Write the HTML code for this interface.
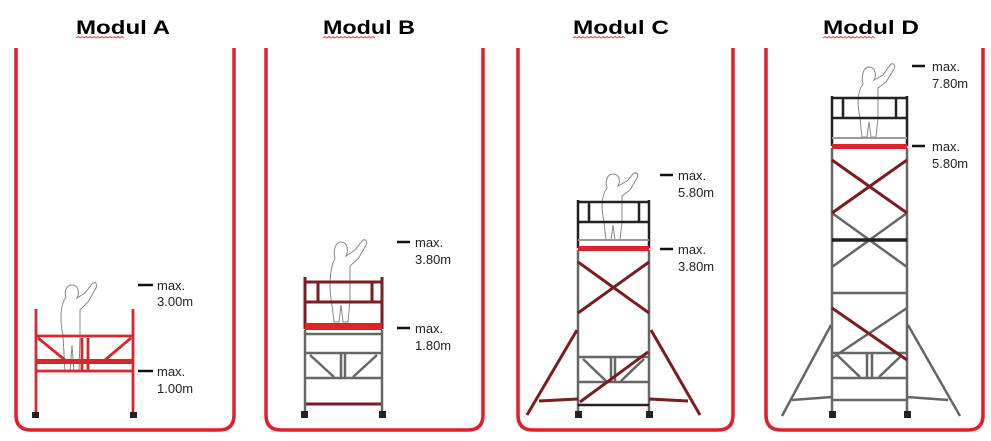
<!DOCTYPE html>
<html><head><meta charset="utf-8"><style>
html,body{margin:0;padding:0;background:#fff;}
svg{display:block;}
.t{font-family:"Liberation Sans",sans-serif;font-weight:bold;font-size:19px;fill:#000;}
.l{font-family:"Liberation Sans",sans-serif;font-size:13px;fill:#222;}
.fr{fill:none;stroke:#e01f2a;stroke-width:3.5;}
.r{stroke:#d8262e;stroke-width:2.8;fill:none;}
.dr{stroke:#7a1d22;stroke-width:3;fill:none;}
.g{stroke:#666;stroke-width:2.5;fill:none;}
.gl{stroke:#999;stroke-width:2;fill:none;}
.k{stroke:#222;stroke-width:2.5;fill:none;}
.p{stroke:#888;stroke-width:1;fill:none;}
.d{stroke:#111;stroke-width:2.5;}
.w{fill:#222;}
.wv{fill:none;stroke:#e33;stroke-width:0.8;}
</style></head><body>
<svg width="991" height="441" viewBox="0 0 991 441" xmlns="http://www.w3.org/2000/svg">
<path class="fr" d="M16 48 V415 Q16 430 31 430 H219 Q234 430 234 415 V48"/>
<path class="fr" d="M266 48 V415 Q266 430 281 430 H468 Q483 430 483 415 V48"/>
<path class="fr" d="M518 48 V415 Q518 430 533 430 H718 Q733 430 733 415 V48"/>
<path class="fr" d="M766 48 V415 Q766 430 781 430 H968 Q983 430 983 415 V48"/>
<text class="t" x="76" y="34" textLength="94" lengthAdjust="spacingAndGlyphs">Modul A</text>
<text class="t" x="323" y="34" textLength="92" lengthAdjust="spacingAndGlyphs">Modul B</text>
<text class="t" x="573" y="34" textLength="96" lengthAdjust="spacingAndGlyphs">Modul C</text>
<text class="t" x="823" y="34" textLength="96" lengthAdjust="spacingAndGlyphs">Modul D</text>
<path class="wv" d="M76 38 l2 -1.5 l2 1.5 l2 -1.5 l2 1.5 l2 -1.5 l2 1.5 l2 -1.5 l2 1.5 l2 -1.5 l2 1.5 l2 -1.5 l2 1.5 l2 -1.5 l2 1.5 l2 -1.5 l2 1.5 l2 -1.5 l2 1.5 l2 -1.5 l2 1.5 l2 -1.5 l2 1.5 l2 -1.5 l2 1.5"/>
<path class="wv" d="M323 38 l2 -1.5 l2 1.5 l2 -1.5 l2 1.5 l2 -1.5 l2 1.5 l2 -1.5 l2 1.5 l2 -1.5 l2 1.5 l2 -1.5 l2 1.5 l2 -1.5 l2 1.5 l2 -1.5 l2 1.5 l2 -1.5 l2 1.5 l2 -1.5 l2 1.5 l2 -1.5 l2 1.5 l2 -1.5 l2 1.5 l2 -1.5 l2 1.5"/>
<path class="wv" d="M573 38 l2 -1.5 l2 1.5 l2 -1.5 l2 1.5 l2 -1.5 l2 1.5 l2 -1.5 l2 1.5 l2 -1.5 l2 1.5 l2 -1.5 l2 1.5 l2 -1.5 l2 1.5 l2 -1.5 l2 1.5 l2 -1.5 l2 1.5 l2 -1.5 l2 1.5 l2 -1.5 l2 1.5 l2 -1.5 l2 1.5 l2 -1.5 l2 1.5"/>
<path class="wv" d="M823 38 l2 -1.5 l2 1.5 l2 -1.5 l2 1.5 l2 -1.5 l2 1.5 l2 -1.5 l2 1.5 l2 -1.5 l2 1.5 l2 -1.5 l2 1.5 l2 -1.5 l2 1.5 l2 -1.5 l2 1.5 l2 -1.5 l2 1.5 l2 -1.5 l2 1.5 l2 -1.5 l2 1.5 l2 -1.5 l2 1.5 l2 -1.5 l2 1.5"/>

<!-- Modul A -->
<path class="p" d="M63 336 C60 320 60 305 66 297 C64 292 66 285 72 285 C78 285 80 292 77 298 L85 293 L92 284 C95 281 98 284 96 288 L88 302 L80 310 L80 336 L79 372 L74 372 L72 345 L70 372 L65 372 Z"/>
<g class="r">
<line x1="36" y1="309" x2="36" y2="413"/><line x1="133" y1="309" x2="133" y2="413"/>
<line x1="36" y1="336" x2="133" y2="336"/>
<line x1="36" y1="371" x2="133" y2="371"/>
<line x1="38" y1="338" x2="65" y2="360"/><line x1="131" y1="338" x2="105" y2="360"/>
<line x1="82" y1="338" x2="82" y2="370"/><line x1="88" y1="338" x2="88" y2="370"/>
</g>
<rect x="36" y="359" width="97" height="5" fill="#d8262e"/>
<rect x="32" y="412" width="7" height="6" class="w"/><rect x="130" y="412" width="7" height="6" class="w"/>
<line class="d" x1="138" y1="285" x2="153" y2="285"/>
<text class="l" x="157" y="290">max.</text><text class="l" x="157" y="306">3.00m</text>
<line class="d" x1="138" y1="371" x2="153" y2="371"/>
<text class="l" x="157" y="376">max.</text><text class="l" x="157" y="393">1.00m</text>

<!-- Modul B -->
<path class="p" d="M332 305 C329 290 329 270 335 258 C333 252 335 242 341 242 C347 242 349 250 346 256 L355 250 L362 241 C365 238 368 241 366 245 L358 259 L350 266 L350 300 L348 322 L343 322 L341 305 L339 322 L334 322 Z"/>
<g class="dr">
<line x1="305" y1="277" x2="305" y2="329"/><line x1="382" y1="277" x2="382" y2="329"/>
<line x1="305" y1="282" x2="382" y2="282"/><line x1="305" y1="302" x2="382" y2="302"/>
<line x1="318" y1="282" x2="318" y2="302"/><line x1="372" y1="282" x2="372" y2="302"/>
<line x1="305" y1="404" x2="382" y2="404"/>
</g>
<rect x="305" y="323" width="77" height="7" fill="#e0232b"/>
<g class="g">
<line x1="305" y1="330" x2="305" y2="413"/><line x1="382" y1="330" x2="382" y2="413"/>
<line x1="306" y1="334" x2="381" y2="334"/><line x1="306" y1="353" x2="381" y2="353"/><line x1="306" y1="378" x2="381" y2="378"/>
<line x1="310" y1="355" x2="334" y2="377"/><line x1="377" y1="355" x2="353" y2="377"/>
<line x1="341" y1="354" x2="341" y2="377"/><line x1="345" y1="354" x2="345" y2="377"/>
</g>
<rect x="301" y="411" width="7" height="7" class="w"/><rect x="379" y="411" width="7" height="7" class="w"/>
<line class="d" x1="397" y1="242" x2="410" y2="242"/>
<text class="l" x="415" y="247">max.</text><text class="l" x="415" y="264">3.80m</text>
<line class="d" x1="397" y1="328" x2="410" y2="328"/>
<text class="l" x="415" y="333">max.</text><text class="l" x="415" y="350">1.80m</text>

<!-- Modul C -->
<path class="p" d="M604 222 C601 208 601 196 607 188 C605 182 607 174 613 174 C619 174 621 181 618 186 L627 181 L633 174 C636 171 639 174 637 178 L630 190 L622 196 L622 222 L620 240 L615 240 L613 225 L611 240 L606 240 Z"/>
<g class="k">
<line x1="578" y1="200" x2="578" y2="248"/><line x1="649" y1="200" x2="649" y2="248"/>
<line x1="578" y1="202" x2="649" y2="202"/><line x1="578" y1="222" x2="649" y2="222"/>
<line x1="589" y1="202" x2="589" y2="222"/><line x1="639" y1="202" x2="639" y2="222"/>
</g>
<line class="gl" x1="578" y1="240" x2="649" y2="240"/>
<g class="g">
<line x1="578" y1="250" x2="578" y2="412"/><line x1="649" y1="250" x2="649" y2="412"/>
<line x1="579" y1="357" x2="648" y2="357"/><line x1="579" y1="382" x2="648" y2="382"/>
<line x1="583" y1="359" x2="606" y2="381"/><line x1="644" y1="359" x2="621" y2="381"/>
<line x1="611" y1="358" x2="611" y2="381"/><line x1="615" y1="358" x2="615" y2="381"/>
</g>
<line class="k" x1="578" y1="405" x2="649" y2="405"/>
<rect x="578" y="246" width="71" height="5" fill="#e0232b"/>
<g class="dr">
<line x1="578" y1="262" x2="649" y2="313"/><line x1="649" y1="262" x2="578" y2="313"/>
<line x1="580" y1="402" x2="648" y2="352"/>
<line x1="577" y1="330" x2="527" y2="415"/><line x1="651" y1="330" x2="700" y2="415"/>
<line x1="539" y1="401" x2="578" y2="399"/><line x1="688" y1="401" x2="649" y2="399"/>
</g>
<rect x="575" y="411" width="7" height="7" class="w"/><rect x="646" y="411" width="7" height="7" class="w"/>
<line class="d" x1="660" y1="175" x2="673" y2="175"/>
<text class="l" x="678" y="180">max.</text><text class="l" x="678" y="197">5.80m</text>
<line class="d" x1="660" y1="249" x2="673" y2="249"/>
<text class="l" x="678" y="254">max.</text><text class="l" x="678" y="271">3.80m</text>

<!-- Modul D -->
<path class="p" d="M860 118 C857 104 857 92 863 84 C861 78 863 67 869 67 C875 67 877 75 874 80 L883 75 L890 65 C893 62 896 65 894 69 L886 82 L878 88 L878 118 L876 137 L871 137 L869 122 L867 137 L862 137 Z"/>
<g class="k">
<line x1="832" y1="96" x2="832" y2="146"/><line x1="907" y1="96" x2="907" y2="146"/>
<line x1="832" y1="98" x2="907" y2="98"/><line x1="832" y1="118" x2="907" y2="118"/>
<line x1="843" y1="98" x2="843" y2="118"/><line x1="896" y1="98" x2="896" y2="118"/>
</g>
<line class="gl" x1="832" y1="138" x2="907" y2="138"/>
<g class="g">
<line x1="832" y1="148" x2="832" y2="412"/><line x1="907" y1="148" x2="907" y2="412"/>
<line x1="832" y1="213" x2="907" y2="267"/><line x1="907" y1="213" x2="832" y2="267"/>
<line x1="833" y1="293" x2="906" y2="293"/>
<line x1="907" y1="308" x2="832" y2="358"/>
<line x1="833" y1="353" x2="906" y2="353"/><line x1="833" y1="378" x2="906" y2="378"/>
<line x1="837" y1="355" x2="860" y2="377"/><line x1="902" y1="355" x2="879" y2="377"/>
<line x1="867" y1="354" x2="867" y2="377"/><line x1="872" y1="354" x2="872" y2="377"/>
<line x1="831" y1="325" x2="782" y2="416"/><line x1="908" y1="325" x2="960" y2="416"/>
<line x1="792" y1="400" x2="832" y2="397"/><line x1="948" y1="400" x2="907" y2="397"/>
<line x1="832" y1="400" x2="907" y2="400"/>
</g>
<line class="k" x1="832" y1="240" x2="907" y2="240" style="stroke-width:3.5"/>
<rect x="832" y="144" width="75" height="5" fill="#e0232b"/>
<g class="dr">
<line x1="832" y1="160" x2="907" y2="213"/><line x1="907" y1="160" x2="832" y2="213"/>
<line x1="832" y1="308" x2="907" y2="360"/>
</g>
<rect x="829" y="411" width="7" height="7" class="w"/><rect x="904" y="411" width="7" height="7" class="w"/>
<line class="d" x1="912" y1="66" x2="925" y2="66"/>
<text class="l" x="932" y="71">max.</text><text class="l" x="932" y="88">7.80m</text>
<line class="d" x1="912" y1="146" x2="925" y2="146"/>
<text class="l" x="932" y="151">max.</text><text class="l" x="932" y="168">5.80m</text>
</svg>
</body></html>
